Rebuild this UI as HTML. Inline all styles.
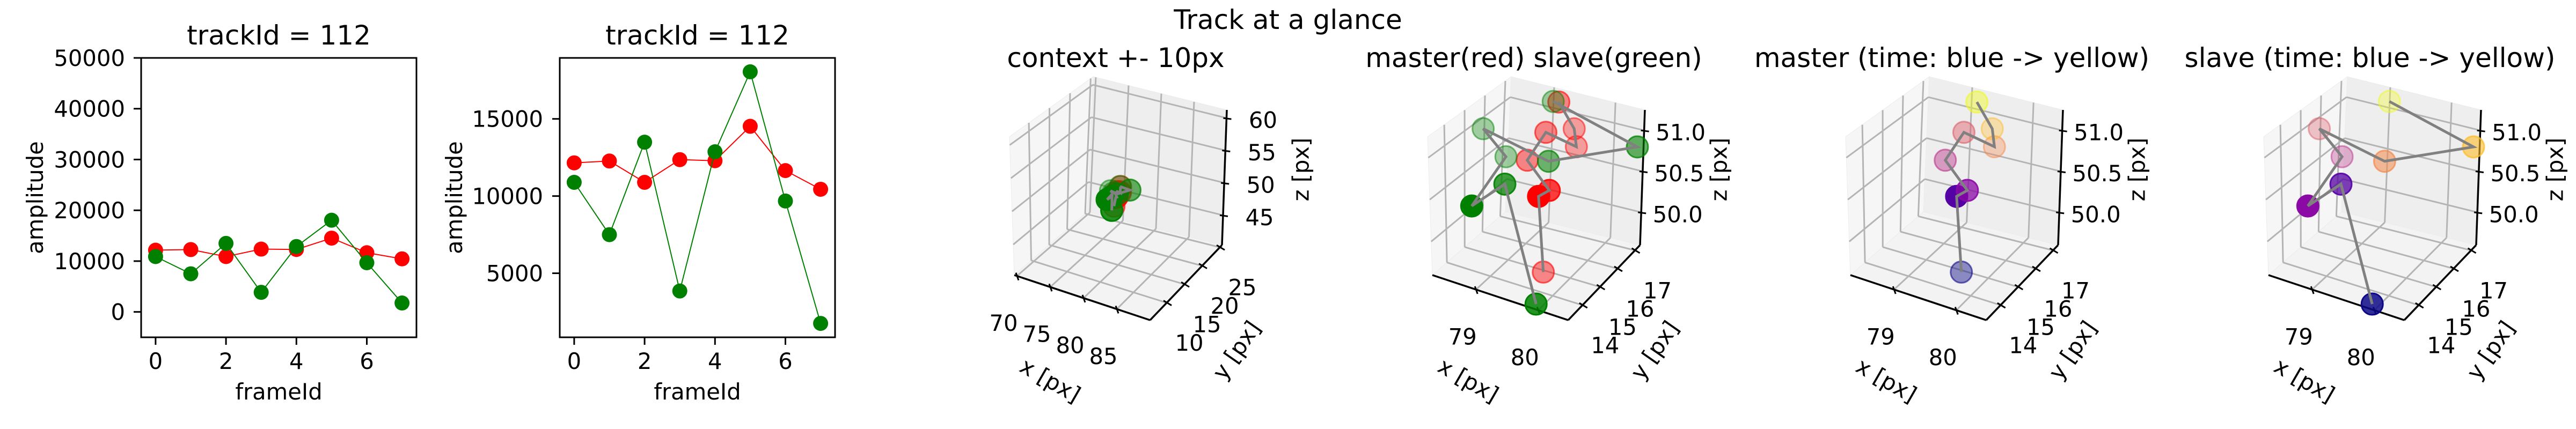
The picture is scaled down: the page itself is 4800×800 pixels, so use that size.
<!DOCTYPE html>
<html><head><meta charset="utf-8"><style>
html,body{margin:0;padding:0;background:#fff}
svg{display:block}
text{font-family:"DejaVu Sans","Liberation Sans",sans-serif;fill:#000}
</style></head><body>
<svg id="fig" width="4800" height="800" viewBox="0 0 4800 800" xmlns="http://www.w3.org/2000/svg">
<rect width="4800" height="800" fill="#fff"/>
<text x="2400" y="54" font-size="50" text-anchor="middle">Track at a glance</text>
<g id="root"></g>
</svg>
<script>
// ---- 2D amplitude data ----
const frames = [0,1,2,3,4,5,6,7];
const masterAmp = [12150,12270,10890,12360,12290,14520,11650,10440];
const slaveAmp = [10890,7500,13490,3850,12870,18050,9680,1750];
const p1YTicks = [0,10000,20000,30000,40000,50000];
const p2YTicks = [5000,10000,15000];
const xTicks2d = [0,2,4,6];
// ---- 3D track data ----
const masterX = [79.85,79.41,79.58,79.10,79.39,79.88,79.84,79.21];
const masterY = [14.00,15.24,15.24,15.65,15.65,15.65,15.65,16.88];
const masterZ = [49.85,50.41,50.52,50.70,51.10,51.03,51.24,51.19];
const slaveX = [79.96,78.87,78.59,78.76,78.39,79.44,80.38,79.12];
const slaveY = [13.20,15.24,14.41,15.65,15.65,15.65,17.29,16.88];
const slaveZ = [49.66,50.44,50.27,50.67,50.93,50.76,50.78,51.18];
const masterShade = [0.45,1.0,0.75,0.45,0.45,0.35,0.35,0.45];
const slaveShade = [0.85,0.75,1.0,0.35,0.35,0.55,0.6,0.35];
const plasma = ['#0d0887','#5402a3','#8b0aa5','#b93289','#db5c68','#f48849','#febc2a','#f0f921'];
const ctxXTicks=[70,75,80,85], ctxYTicks=[10,15,20,25], ctxZTicks=[45,50,55,60];
const zoomXTicks=[79,80], zoomYTicks=[14,15,16,17], zoomZTicks=[50.0,50.5,51.0];

const NS='http://www.w3.org/2000/svg';
const root=document.getElementById('root');
function mk(tag,attrs,parent){const e=document.createElementNS(NS,tag);for(const k in attrs)e.setAttribute(k,attrs[k]);(parent||root).appendChild(e);return e;}

// ---------- 2D panels ----------
function panel2d(name,L,R,T,B,xmin,xmax,ymin,ymax,yTicks,labelRight,ylabX){
  const g=mk('g',{});
  
  
  const sx=v=>L+(v-xmin)/(xmax-xmin)*(R-L);
  const sy=v=>B-(v-ymin)/(ymax-ymin)*(B-T);
  const series=[[masterAmp,'#ff0000','master'],[slaveAmp,'#008000','slave']];
  series.forEach(([arr,col,nm])=>{
    const pts=frames.map((f,i)=>sx(f)+','+sy(arr[i])).join(' ');
    const pl=mk('polyline',{points:pts,fill:'none',stroke:col,'stroke-width':2},g);
    
    
    frames.forEach((f,i)=>{
      const c=mk('circle',{cx:sx(f),cy:sy(arr[i]),r:14,fill:col},g);
      
      
    });
  });
  const fr=mk('rect',{x:L,y:T,width:R-L,height:B-T,fill:'none',stroke:'#000','stroke-width':3},g);
  
  
  yTicks.forEach(v=>{
    mk('line',{x1:L-14,x2:L,y1:sy(v),y2:sy(v),stroke:'#000','stroke-width':3},g);
    const t=mk('text',{x:labelRight,y:sy(v)+15,'font-size':41.7,'text-anchor':'end'},g);
    t.textContent=v;
    
    
  });
  xTicks2d.forEach(v=>{
    mk('line',{x1:sx(v),x2:sx(v),y1:B,y2:B+14,stroke:'#000','stroke-width':3},g);
    const t=mk('text',{x:sx(v),y:688,'font-size':41.7,'text-anchor':'middle'},g);
    t.textContent=v;
    
    
  });
  const cx=(L+R)/2;
  const ti=mk('text',{x:cx,y:83,'font-size':50,'text-anchor':'middle'},g);
  ti.textContent='trackId = 112';
  
  
  const xl=mk('text',{x:cx,y:745,'font-size':41.7,'text-anchor':'middle'},g);
  xl.textContent='frameId';
  
  
  const yl=mk('text',{x:ylabX,y:(T+B)/2,'font-size':41.7,'text-anchor':'middle',transform:'rotate(-90 '+ylabX+' '+(T+B)/2+')'},g);
  yl.textContent='amplitude';
  
  
}
panel2d('amplitude-panel-full',263,776,108,629,-0.41,7.41,-5000,50000,p1YTicks,233,80);
panel2d('amplitude-panel-zoom',1043,1556,108,629,-0.41,7.41,850,18950,p2YTicks,1012,861);

// ---------- 3D panels ----------
const C0={D:[2669,513],E:[2922,597],F:[3056,457],G:[2805,395],B:[2660,255],H:[2922,342],C:[3065,205],A:[2816,143]};
function panel3d(k,name,title,xr,yr,zr,xT,yT,zT,layers){
  const dx=(k-1)*779;
  const g=mk('g',{});
  
  
  const P=(u,v,w)=>{
    const lerp=(a,b,t)=>[a[0]+(b[0]-a[0])*t,a[1]+(b[1]-a[1])*t];
    const b0=lerp(lerp(C0.D,C0.E,u),lerp(C0.G,C0.F,u),v);
    const b1=lerp(lerp(C0.B,C0.H,u),lerp(C0.A,C0.C,u),v);
    const p=lerp(b0,b1,w);return [p[0]+dx,p[1]];
  };
  const U=x=>(x-xr[0])/(xr[1]-xr[0]), V=y=>(y-yr[0])/(yr[1]-yr[0]), W=z=>(z-zr[0])/(zr[1]-zr[0]);
  const poly=(pts,fill,nm)=>{const e=mk('polygon',{points:pts.map(p=>p.join(',')).join(' '),fill:fill,stroke:'#ececec','stroke-width':1},g);};
  poly([P(0,0,0),P(0,1,0),P(0,1,1),P(0,0,1)],'#f6f6f6','left-pane');
  poly([P(0,1,0),P(1,1,0),P(1,1,1),P(0,1,1)],'#eeeeee','back-pane');
  poly([P(0,0,0),P(1,0,0),P(1,1,0),P(0,1,0)],'#f3f3f3','floor-pane');
  const ln=(a,b,col,w)=>mk('line',{x1:a[0],y1:a[1],x2:b[0],y2:b[1],stroke:col,'stroke-width':w},g);
  const gc='#b4b4b4';
  yT.forEach(t=>{const v=V(t);ln(P(0,v,0),P(0,v,1),gc,3);ln(P(0,v,0),P(1,v,0),gc,3);});
  zT.forEach(t=>{const w=W(t);ln(P(0,0,w),P(0,1,w),gc,3);ln(P(0,1,w),P(1,1,w),gc,3);});
  xT.forEach(t=>{const u=U(t);ln(P(u,0,0),P(u,1,0),gc,3);ln(P(u,1,0),P(u,1,1),gc,3);});
  // axes
  ln(P(0,0,0),P(1,0,0),'#000',3.5);ln(P(1,0,0),P(1,1,0),'#000',3.5);ln(P(1,1,0),P(1,1,1),'#000',3.5);
  const lab=(x,y,s,nm,extra)=>{const t=mk('text',Object.assign({x:x,y:y,'font-size':41.7,'text-anchor':'middle','dominant-baseline':'central'},extra||{}),g);t.textContent=s;return t;};
  xT.forEach(t=>{const p=P(U(t),0,0);ln([p[0]-2,p[1]-6],[p[0]+3,p[1]+8],'#000',3);lab(p[0]-25,p[1]+88,String(t),'x-tick-label');});
  yT.forEach(t=>{const p=P(1,V(t),0);ln([p[0]-6,p[1]-4],[p[0]+9,p[1]+5],'#000',3);lab(p[0]+42,p[1]+75,String(t),'y-tick-label');});
  zT.forEach(t=>{const p=P(1,1,W(t));ln([p[0]-6,p[1]],[p[0]+9,p[1]+2],'#000',3);lab(p[0]+68,p[1]+4,(zT===zoomZTicks?t.toFixed(1):String(t)),'z-tick-label');});
  lab(2736+dx,709,'x [px]','x-axis-title',{transform:'rotate(30 '+(2736+dx)+' 709)'});
  lab(3083+dx,653,'y [px]','y-axis-title',{transform:'rotate(-55 '+(3083+dx)+' 653)'});
  lab(3203+dx,316,'z [px]','z-axis-title',{transform:'rotate(-90 '+(3203+dx)+' 316)'});
  const ti=mk('text',{x:2858+dx,y:125,'font-size':50,'text-anchor':'middle'},g);
  ti.textContent=title;
  
  
  // data
  layers.forEach(L=>{
    frames.forEach((f,i)=>{
      const p=P(U(L.xs[i]),V(L.ys[i]),W(L.zs[i]));
      const col=L.colors?L.colors[i]:L.color;
      const c=mk('circle',{cx:p[0],cy:p[1],r:20,fill:col,'fill-opacity':L.shade[i],stroke:col,'stroke-opacity':Math.min(1,L.shade[i]+0.15),'stroke-width':3},g);
      
      
    });
  });
  layers.forEach(L=>{
    const pts=frames.map((f,i)=>P(U(L.xs[i]),V(L.ys[i]),W(L.zs[i])).join(',')).join(' ');
    const pl=mk('polyline',{points:pts,fill:'none',stroke:'#808080','stroke-width':5,'stroke-linejoin':'miter'},g);
    
    
  });
}
const mLayer={name:'master',xs:masterX,ys:masterY,zs:masterZ,shade:masterShade,color:'#ff0000'};
const sLayer={name:'slave',xs:slaveX,ys:slaveY,zs:slaveZ,shade:slaveShade,color:'#008000'};
const ctxR={x:[69.6,90],y:[5.3,25.6],z:[40.4,61.25]};
const zR={x:[78.30,80.48],y:[13.18,17.29],z:[49.6,51.25]};
panel3d(0,'context-3d-panel','context +- 10px',ctxR.x,ctxR.y,ctxR.z,ctxXTicks,ctxYTicks,ctxZTicks,[mLayer,sLayer]);
panel3d(1,'master-slave-3d-panel','master(red) slave(green)',zR.x,zR.y,zR.z,zoomXTicks,zoomYTicks,zoomZTicks,[mLayer,sLayer]);
panel3d(2,'master-time-3d-panel','master (time: blue -> yellow)',zR.x,zR.y,zR.z,zoomXTicks,zoomYTicks,zoomZTicks,[Object.assign({},mLayer,{colors:plasma})]);
panel3d(3,'slave-time-3d-panel','slave (time: blue -> yellow)',zR.x,zR.y,zR.z,zoomXTicks,zoomYTicks,zoomZTicks,[Object.assign({},sLayer,{colors:plasma})]);
</script>
</body></html>
